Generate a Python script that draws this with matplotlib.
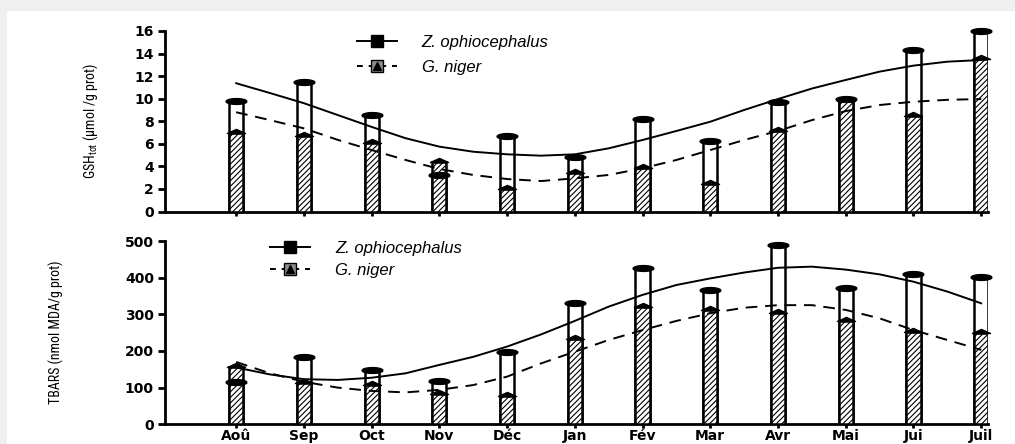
#!/usr/bin/env python3
"""Seasonal GSH_tot and TBARS in Z. ophiocephalus and G. niger (two stacked panels)."""

import numpy as np
import matplotlib

matplotlib.use("Agg")
import matplotlib.pyplot as plt
from matplotlib import font_manager
from matplotlib.legend_handler import HandlerTuple
from matplotlib.lines import Line2D
from matplotlib.patches import Rectangle
from matplotlib.path import Path

months = ["Aoû", "Sep", "Oct", "Nov", "Déc", "Jan", "Fév", "Mar", "Avr", "Mai", "Jui", "Juil"]

# GSH tot (umol/g prot)
gsh_zo = [9.8, 11.5, 8.55, 3.2, 6.65, 4.85, 8.2, 6.25, 9.7, 10.0, 14.3, 16.0]
gsh_gn = [7.0, 6.7, 6.1, 4.4, 2.0, 3.45, 3.9, 2.4, 7.1, 9.8, 8.5, 13.5]

# TBARS (nmol MDA/g prot)
tbars_zo = [116, 183, 148, 119, 198, 332, 425, 366, 489, 371, 410, 401]
tbars_gn = [157, 112, 108, 82, 78, 234, 321, 312, 303, 282, 253, 248]

# fitted trend curves, read every half month from Aoû to Juil
gsh_zo_fit = [11.37, 10.5, 9.6, 8.55, 7.5, 6.5, 5.75, 5.3, 5.07, 4.95, 5.07, 5.6,
              6.34, 7.14, 7.96, 9.0, 9.97, 10.9, 11.66, 12.4, 12.93, 13.28, 13.43]
gsh_gn_fit = [8.8, 8.1, 7.37, 6.35, 5.45, 4.57, 3.77, 3.24, 2.88, 2.7, 2.94, 3.24,
              3.83, 4.57, 5.45, 6.34, 7.14, 8.1, 8.9, 9.44, 9.73, 9.9, 9.97]
tbars_zo_fit = [155, 136, 123, 121, 127, 139, 162, 184, 212, 245, 282, 321,
                353, 380, 398, 414, 427, 430, 422, 409, 389, 362, 330]
tbars_gn_fit = [170, 139, 116, 100, 91, 87, 94, 107, 130, 166, 198, 230,
                257, 282, 303, 318, 325, 325, 312, 289, 257, 230, 203]

legend_labels = ["Z. ophiocephalus", "G. niger"]


def pick_font(*names: str) -> str:
    installed = {f.name for f in font_manager.fontManager.ttflist}
    for name in names:
        if name in installed:
            return name
    return "DejaVu Sans"


NARROW = pick_font("Liberation Sans Narrow", "Roboto Condensed", "DejaVu Sans")
SANS = pick_font("Liberation Sans", "DejaVu Sans")


def configure_style() -> None:
    plt.rcParams.update(
        {
            "font.family": ["DejaVu Sans"],
            "axes.spines.top": False,
            "axes.spines.right": False,
            "axes.linewidth": 2.0,
            "hatch.linewidth": 0.8,
            "mathtext.fontset": "custom",
            "mathtext.rm": NARROW,
        }
    )


def ellipse_marker() -> Path:
    t = np.linspace(0, 2 * np.pi, 41)
    return Path(np.column_stack([np.cos(t), 0.28 * np.sin(t)]))


def triangle_marker() -> Path:
    return Path([(-1, 0), (1, 0), (0, 0.45), (-1, 0)], closed=True)


def draw_panel(ax, zo, gn, zo_fit, gn_fit, ymax, ystep):
    x = np.arange(len(months))
    xf = np.arange(len(zo_fit)) * 0.5
    width = 0.21
    ax.bar(x, zo, width, color="white", edgecolor="black", linewidth=1.8, zorder=2)
    ax.bar(x, gn, width, color="white", edgecolor="black", linewidth=1.8,
           hatch="//////", zorder=3)
    ax.plot(xf, zo_fit, color="black", linewidth=1.4, zorder=4)
    ax.plot(xf, gn_fit, color="black", linewidth=1.4, linestyle=(0, (6, 4)), zorder=4)
    ax.plot(x, zo, linestyle="none", marker=ellipse_marker(), markersize=15,
            color="black", zorder=6, clip_on=False)
    ax.plot(x, gn, linestyle="none", marker=triangle_marker(), markersize=13,
            color="black", zorder=6, clip_on=False)

    ax.set_xlim(-1.05, 11.1)
    ax.set_ylim(0, ymax)
    ax.set_yticks(np.arange(0, ymax + ystep, ystep))
    ax.set_xticks(x)
    ax.tick_params(axis="both", direction="out", width=2.0, length=5, pad=3)
    ax.tick_params(axis="x", length=3)
    for lab in ax.get_yticklabels():
        lab.set_fontweight("bold")
        lab.set_fontsize(10)
    ax.patch.set_alpha(0)


def add_legend(ax, anchor, spacing):
    h_zo = (Line2D([], [], color="black", linewidth=1.4),
            Line2D([], [], linestyle="none", marker="s", markersize=8,
                   markerfacecolor="black", markeredgecolor="black"))
    h_gn = (Line2D([], [], color="black", linewidth=1.4, linestyle=(0, (3, 3))),
            Line2D([], [], linestyle="none", marker="s", markersize=8,
                   markerfacecolor="0.55", markeredgecolor="black"),
            Line2D([], [], linestyle="none", marker="^", markersize=6,
                   color="black"))
    ax.legend([h_zo, h_gn], legend_labels,
              handler_map={tuple: HandlerTuple(ndivide=1, pad=0)},
              loc="upper left", bbox_to_anchor=anchor, frameon=False,
              prop={"family": SANS, "style": "italic", "size": 12},
              handlelength=2.4, handletextpad=1.5, labelspacing=spacing,
              borderaxespad=0.0, borderpad=0.0)


def main() -> None:
    configure_style()
    fig = plt.figure(figsize=(10.15, 4.44), dpi=100)
    fig.patch.set_facecolor("#efefef")
    fig.add_artist(Rectangle((7 / 1015, 0), 1, 1 - 11 / 444, transform=fig.transFigure,
                             facecolor="white", edgecolor="none", zorder=-10))

    left, width = 0.1626, 0.8108
    ax1 = fig.add_axes([left, 0.5236, width, 0.4066])
    ax2 = fig.add_axes([left, 0.0444, width, 0.4128])

    draw_panel(ax1, gsh_zo, gsh_gn, gsh_zo_fit, gsh_gn_fit, 16, 2)
    ax1.set_xticklabels([])
    ax1.set_ylabel("GSH$_{\\rm tot}$ (µmol /g prot)", family=NARROW, fontsize=10)
    ax1.yaxis.set_label_coords(-0.079, 0.5)
    add_legend(ax1, (0.233, 0.98), 0.6)

    draw_panel(ax2, tbars_zo, tbars_gn, tbars_zo_fit, tbars_gn_fit, 500, 100)
    ax2.set_xticklabels(months, fontweight="bold", fontsize=10)
    ax2.tick_params(axis="x", pad=0.5)
    ax2.set_ylabel("TBARS (nmol MDA/g prot)", family=NARROW, fontsize=10)
    ax2.yaxis.set_label_coords(-0.123, 0.5)
    add_legend(ax2, (0.128, 1.0), 0.4)

    fig.savefig("out.png", dpi=100, facecolor=fig.get_facecolor())


if __name__ == "__main__":
    main()
